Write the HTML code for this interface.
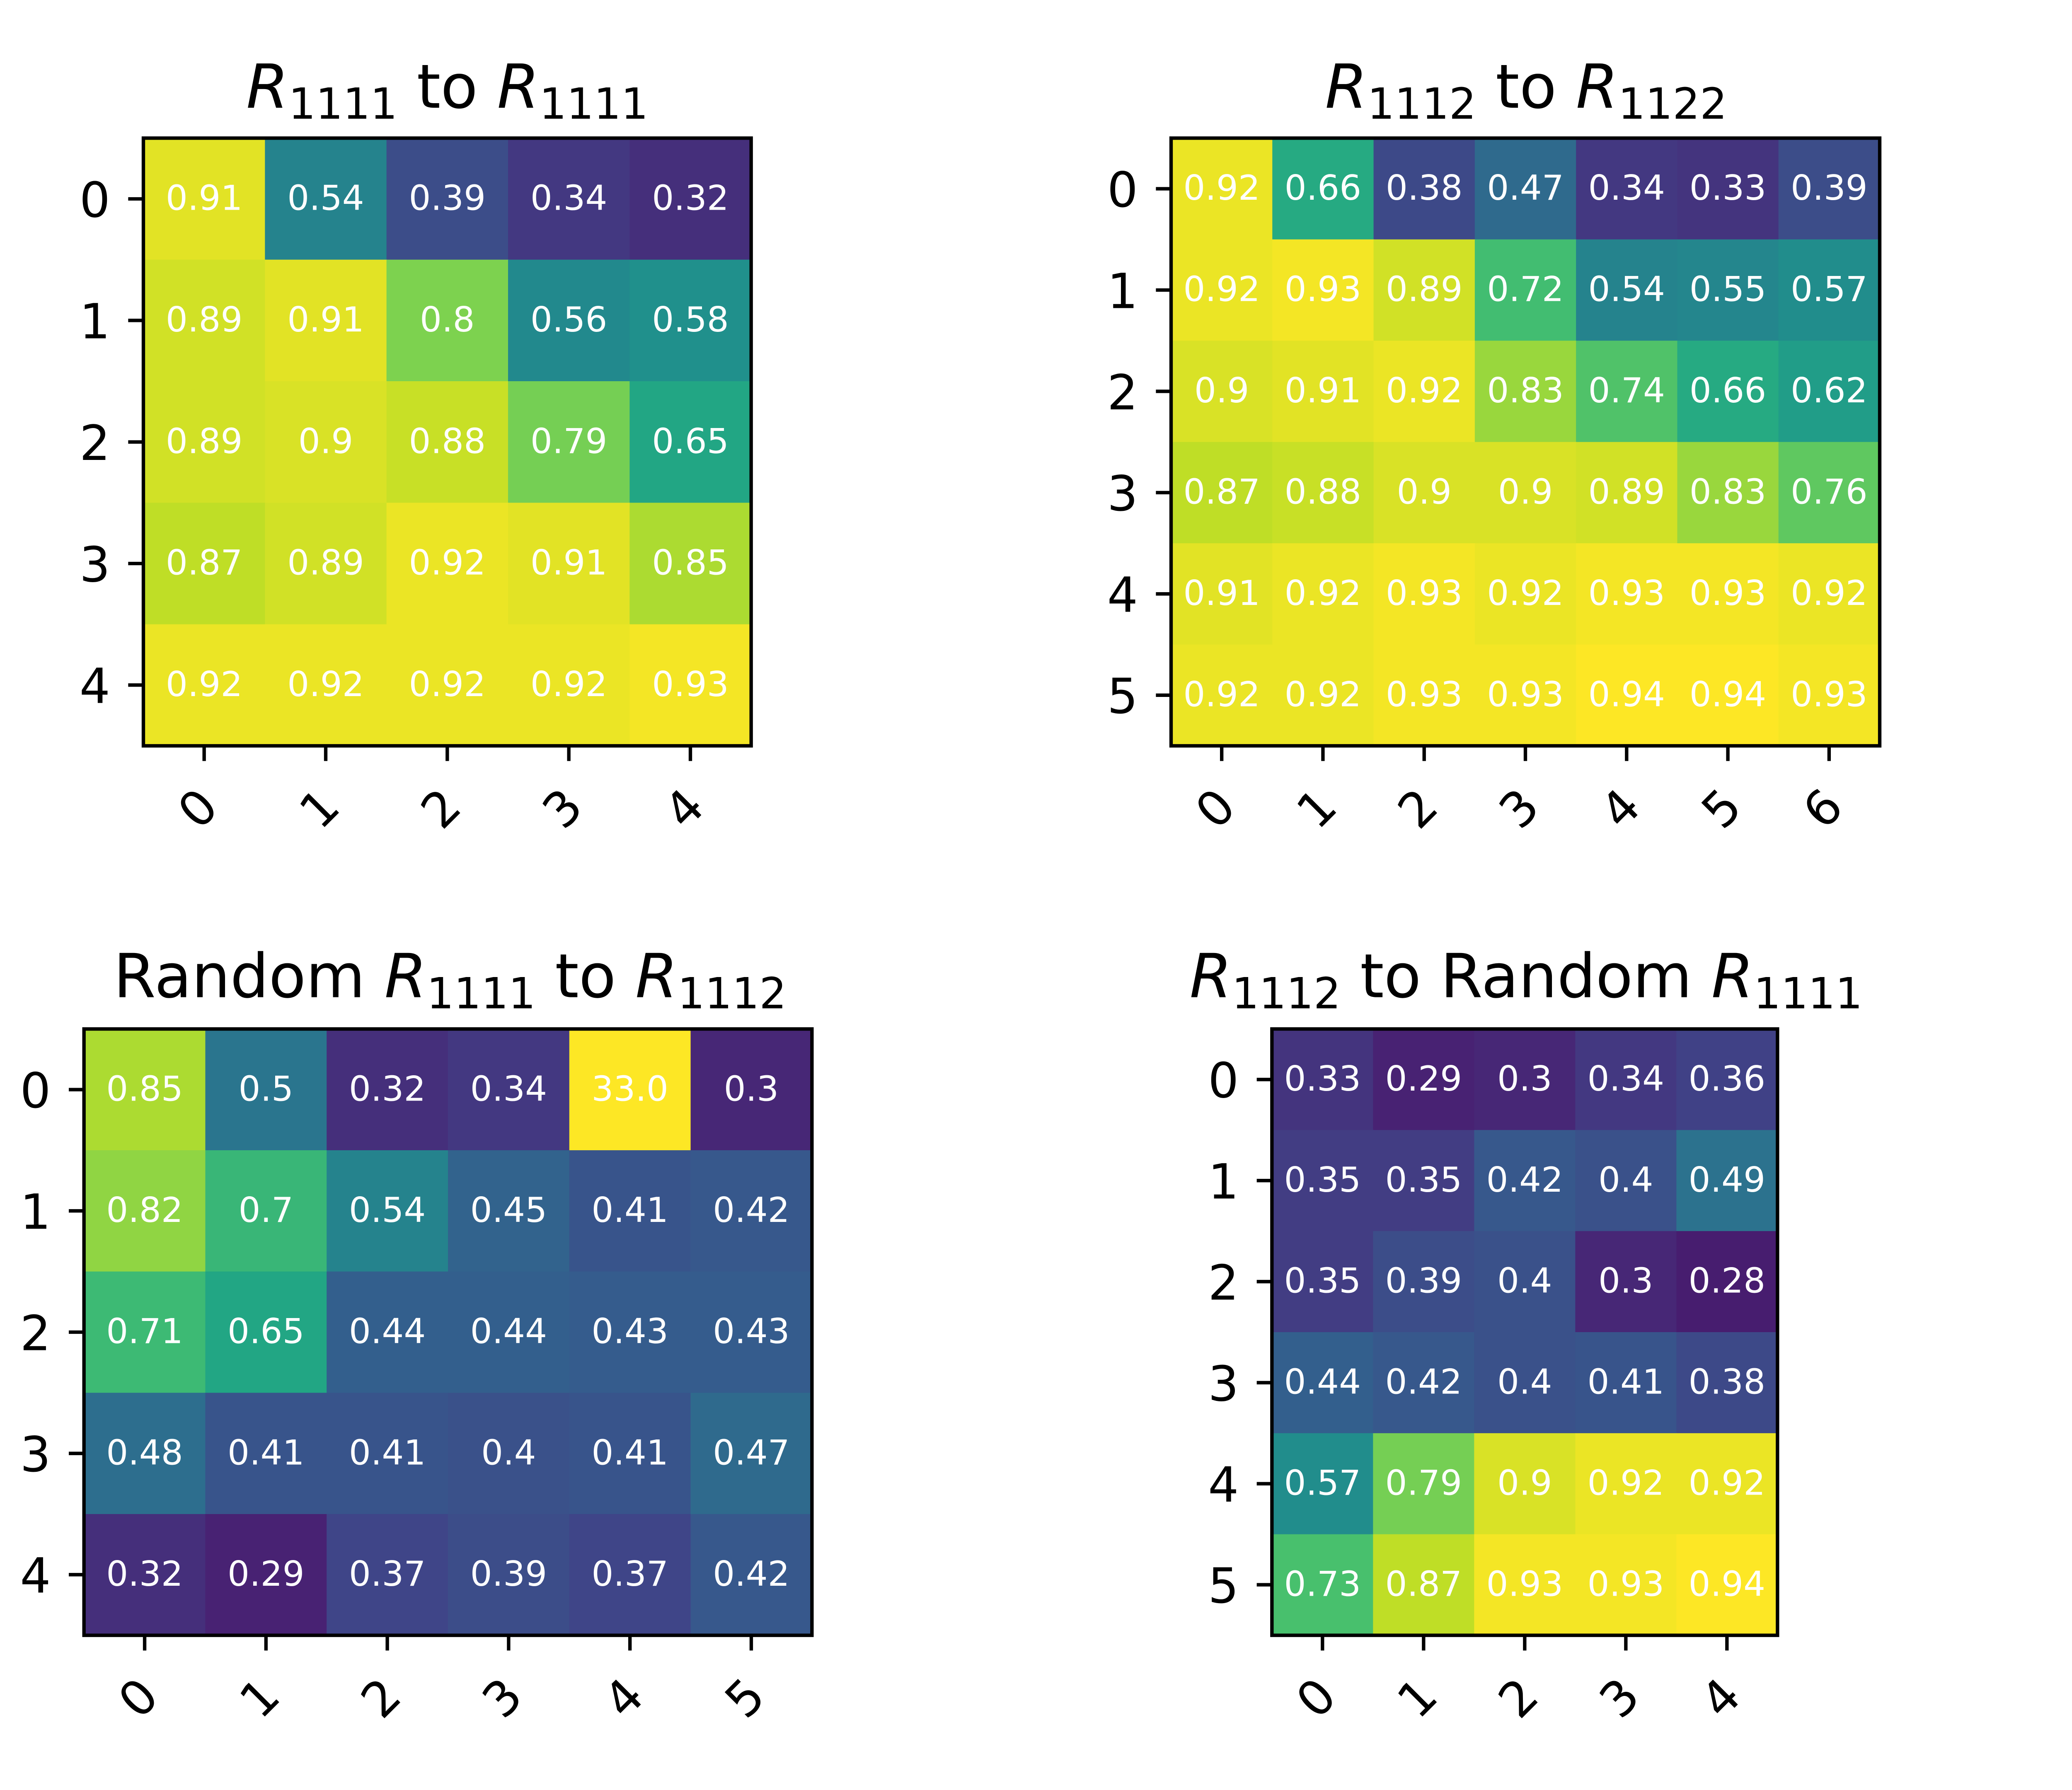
<!DOCTYPE html>
<html><head><meta charset="utf-8"><style>
html,body{margin:0;padding:0;background:#fff;}
svg{display:block;}
text{font-family:"DejaVu Sans","Liberation Sans",sans-serif;}
</style></head><body>
<svg id="fig" width="5232" height="4320" viewBox="0 0 1568 1296" xmlns="http://www.w3.org/2000/svg">
<rect width="1568" height="1296" fill="#fff"/>
</svg>
<script>
const valuesA = [[0.91,0.54,0.39,0.34,0.32],[0.89,0.91,0.8,0.56,0.58],[0.89,0.9,0.88,0.79,0.65],[0.87,0.89,0.92,0.91,0.85],[0.92,0.92,0.92,0.92,0.93]];
const valuesB = [[0.92,0.66,0.38,0.47,0.34,0.33,0.39],[0.92,0.93,0.89,0.72,0.54,0.55,0.57],[0.9,0.91,0.92,0.83,0.74,0.66,0.62],[0.87,0.88,0.9,0.9,0.89,0.83,0.76],[0.91,0.92,0.93,0.92,0.93,0.93,0.92],[0.92,0.92,0.93,0.93,0.94,0.94,0.93]];
const valuesC = [[0.85,0.5,0.32,0.34,33.0,0.3],[0.82,0.7,0.54,0.45,0.41,0.42],[0.71,0.65,0.44,0.44,0.43,0.43],[0.48,0.41,0.41,0.4,0.41,0.47],[0.32,0.29,0.37,0.39,0.37,0.42]];
const valuesD = [[0.33,0.29,0.3,0.34,0.36],[0.35,0.35,0.42,0.4,0.49],[0.35,0.39,0.4,0.3,0.28],[0.44,0.42,0.4,0.41,0.38],[0.57,0.79,0.9,0.92,0.92],[0.73,0.87,0.93,0.93,0.94]];
const colorMin = 0.22, colorMax = 0.94;

const NS="http://www.w3.org/2000/svg";
const svg=document.getElementById('fig');
const vir=[[68,1,84],[72,35,116],[64,67,135],[52,94,141],[41,120,142],[32,144,140],[34,167,132],[68,190,112],[121,209,81],[189,222,38],[253,231,37]];
function viridis(t){t=Math.max(0,Math.min(1,t));const p=t*10,i=Math.min(9,Math.floor(p)),f=p-i;const a=vir[i],b=vir[i+1];return `rgb(${a.map((c,k)=>Math.round(c+(b[k]-c)*f)).join(',')})`;}
function mk(tag,attrs,parent){const e=document.createElementNS(NS,tag);for(const k in attrs)e.setAttribute(k,attrs[k]);(parent||svg).appendChild(e);return e;}
function fmt(v){return Number.isInteger(v)?v.toFixed(1):String(v);}

function title(parts,cx,y,name){
  const t=mk('text',{x:cx,y:y,'text-anchor':'middle','font-size':44});
  
  
  for(const p of parts){
    const s=mk('tspan',{},t);
    if(p.t==='R'){s.setAttribute('font-style','italic');s.textContent='R';}
    else if(p.t==='sub'){s.setAttribute('font-size',31);s.setAttribute('dy',8);s.textContent=p.v;}
    else {s.setAttribute('dy',p.up?-8:0);s.textContent=p.v;}
  }
}

function heatmap(vals,x0,y0,w,h,name){
  const rows=vals.length,cols=vals[0].length,cw=w/cols,ch=h/rows;
  const g=mk('g',{});
  
  
  vals.forEach((row,r)=>row.forEach((v,c)=>{
    const cv=v>1?colorMax:v;
    const rect=mk('rect',{x:x0+c*cw,y:y0+r*ch,width:cw+0.5,height:ch+0.5,fill:viridis((cv-colorMin)/(colorMax-colorMin))},g);
    
    
    const t=mk('text',{x:x0+(c+0.5)*cw,y:y0+(r+0.5)*ch+8,'text-anchor':'middle','font-size':25,fill:'#fff'},g);
    
    
    t.textContent=fmt(v);
  }));
  mk('rect',{x:x0,y:y0,width:w,height:h,fill:'none',stroke:'#000','stroke-width':2.5},g);
  for(let r=0;r<rows;r++){
    const y=y0+(r+0.5)*ch;
    mk('line',{x1:x0-11,y1:y,x2:x0,y2:y,stroke:'#000','stroke-width':2.5},g);
    const t=mk('text',{x:x0-24,y:y+13,'text-anchor':'end','font-size':35},g);
    
    
    t.textContent=r;
  }
  for(let c=0;c<cols;c++){
    const x=x0+(c+0.5)*cw;
    mk('line',{x1:x,y1:y0+h,x2:x,y2:y0+h+11,stroke:'#000','stroke-width':2.5},g);
    const t=mk('text',{x:0,y:0,'text-anchor':'middle','font-size':35,transform:`translate(${x+4},${y0+h+54}) rotate(-45)`},g);
    
    
    t.textContent=c;
  }
}

heatmap(valuesA,103,100,440,440,'heatmap-r1111-to-r1111');
heatmap(valuesB,847,100,513,440,'heatmap-r1112-to-r1122');
heatmap(valuesC,60,745,527,439,'heatmap-random-r1111-to-r1112');
heatmap(valuesD,920,745,366,439,'heatmap-r1112-to-random-r1111');

title([{t:'R'},{t:'sub',v:'1111'},{t:'txt',v:' to ',up:true},{t:'R'},{t:'sub',v:'1111'}],323,78,'title-r1111-to-r1111');
title([{t:'R'},{t:'sub',v:'1112'},{t:'txt',v:' to ',up:true},{t:'R'},{t:'sub',v:'1122'}],1104,78,'title-r1112-to-r1122');
title([{t:'txt',v:'Random '},{t:'R'},{t:'sub',v:'1111'},{t:'txt',v:' to ',up:true},{t:'R'},{t:'sub',v:'1112'}],325,722,'title-random-r1111-to-r1112');
title([{t:'R'},{t:'sub',v:'1112'},{t:'txt',v:' to Random ',up:true},{t:'R'},{t:'sub',v:'1111'}],1104,722,'title-r1112-to-random-r1111');
</script>
</body></html>
